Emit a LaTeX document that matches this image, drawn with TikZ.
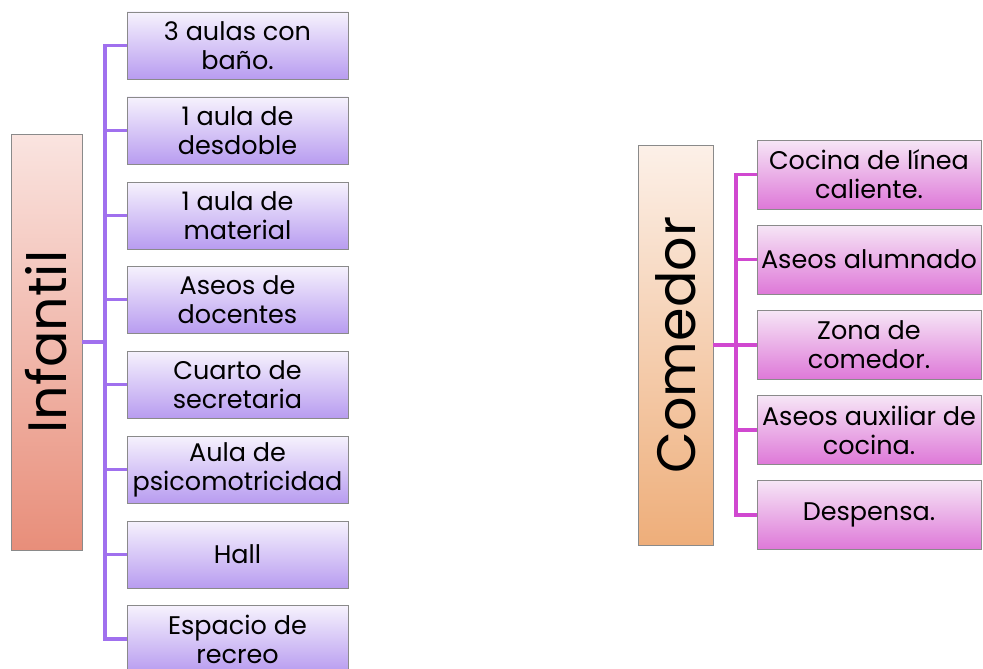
\documentclass[tikz,border=0pt]{standalone}
\usepackage{fontspec}
\setmainfont{Poppins}
\usetikzlibrary{shadings}
\definecolor{pline}{HTML}{A070EE}
\definecolor{mline}{HTML}{D048D0}
\definecolor{ptop}{HTML}{F6F2FD}
\definecolor{pbot}{HTML}{B89CF0}
\definecolor{mtop}{HTML}{F6E6F6}
\definecolor{mbot}{HTML}{DE78D8}
\definecolor{itop}{HTML}{FAE4E0}
\definecolor{ibot}{HTML}{E88E7A}
\definecolor{ctop}{HTML}{FCF0E8}
\definecolor{cbot}{HTML}{EEAE7A}
\definecolor{bord}{HTML}{8A8A8A}
\tikzset{
  leaf/.style={draw=bord, line width=0.8pt, minimum width=221pt, minimum height=67pt,
    inner sep=0pt, align=center, font=\fontsize{25.5}{29}\selectfont, text=black},
  pleaf/.style={leaf, top color=ptop, bottom color=pbot},
  mleaf/.style={leaf, top color=mtop, bottom color=mbot, minimum width=224pt, minimum height=69pt},
  root/.style={draw=bord, line width=0.8pt, inner sep=0pt},
  rtext/.style={rotate=90, font=\fontsize{54}{56}\selectfont},
  pcon/.style={draw=pline, line width=3.2pt},
  mcon/.style={draw=mline, line width=3.2pt},
}
\begin{document}
\begin{tikzpicture}[x=1pt,y=-1pt]
\useasboundingbox (0,0) rectangle (983,669);
% Infantil
\node[root, minimum width=71pt, minimum height=416pt, top color=itop, bottom color=ibot] (inf) at (46.5,342) {};
\node[rtext] (inft) at (inf.center) {Infantil};
\node[pleaf] (a1) at (237.5,45.5) {3 aulas con\\baño.};
\node[pleaf] (a2) at (237.5,130.5) {1 aula de\\desdoble};
\node[pleaf] (a3) at (237.5,215.5) {1 aula de\\material};
\node[pleaf] (a4) at (237.5,299.5) {Aseos de\\docentes};
\node[pleaf] (a5) at (237.5,384.5) {Cuarto de\\secretaria};
\node[pleaf] (a6) at (237.5,469.5) {Aula de\\psicomotricidad};
\node[pleaf] (a7) at (237.5,554.5) {Hall};
\node[pleaf] (a8) at (237.5,639) {Espacio de\\recreo};
\coordinate (jl) at (105,342);
\draw[pcon] (inf.east) -- (jl);
\draw[pcon] (a1.west) -| (jl) |- (a8.west);
\foreach \n in {a2,a3,a4,a5,a6,a7} \draw[pcon] (\n.west) -- (jl |- \n.west);
% Comedor
\node[root, minimum width=75pt, minimum height=400pt, top color=ctop, bottom color=cbot] (com) at (675.5,345) {};
\node[rtext] (comt) at (com.center) {Comedor};
\node[mleaf] (b1) at (869,174.5) {Cocina de línea\\caliente.};
\node[mleaf] (b2) at (869,259.5) {Aseos alumnado};
\node[mleaf] (b3) at (869,345) {Zona de\\comedor.};
\node[mleaf] (b4) at (869,430) {Aseos auxiliar de\\cocina.};
\node[mleaf] (b5) at (869,515) {Despensa.};
\coordinate (jr) at (736,345);
\draw[mcon] (com.east) -- (jr);
\draw[mcon] (b1.west) -| (jr) |- (b5.west);
\foreach \n in {b2,b3,b4} \draw[mcon] (\n.west) -- (jr |- \n.west);
\end{tikzpicture}
\end{document}
